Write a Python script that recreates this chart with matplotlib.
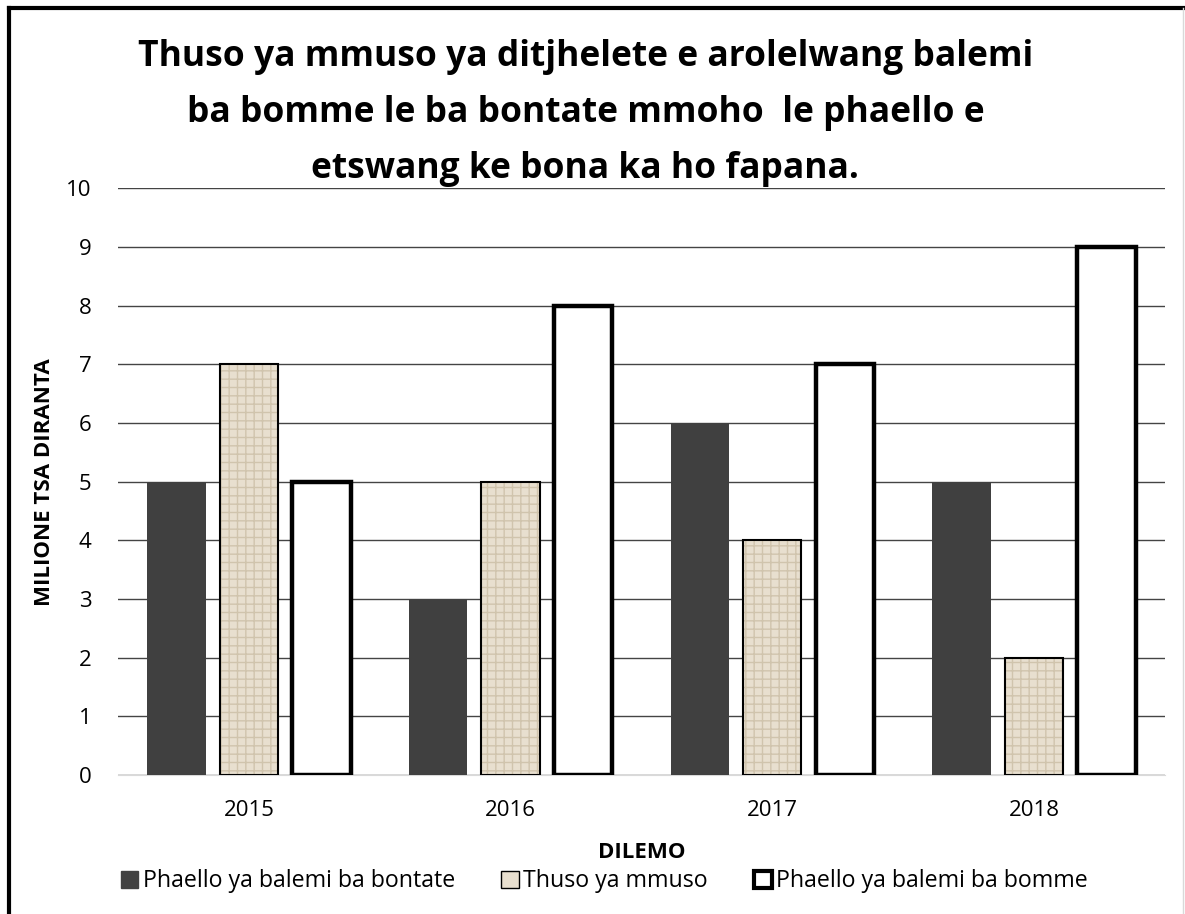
import matplotlib.pyplot as plt
import numpy as np
from matplotlib.patches import Patch
from matplotlib.lines import Line2D

years = ["2015", "2016", "2017", "2018"]
bontate = [5, 3, 6, 5]
thuso = [7, 5, 4, 2]
bomme = [5, 8, 7, 9]

labels = ["Phaello ya balemi ba bontate", "Thuso ya mmuso", "Phaello ya balemi ba bomme"]
title = ("Thuso ya mmuso ya ditjhelete e arolelwang balemi\n"
         "ba bomme le ba bontate mmoho  le phaello e\n"
         "etswang ke bona ka ho fapana.")

plt.rcParams['font.family'] = ['Open Sans', 'DejaVu Sans']

fig = plt.figure(figsize=(11.85, 9.14), dpi=100)
ax = fig.add_axes([0.0996, 0.152, 0.8834, 0.642])

x = np.arange(len(years))
w = 0.223
off = 0.277

ax.bar(x - off, bontate, w, color="#404040", zorder=3)
ax.bar(x, thuso, w, color="#e8dfcf", hatch="++", edgecolor="#d0c4ad", linewidth=0, zorder=3)
ax.bar(x, thuso, w, facecolor="none", edgecolor="black", linewidth=1.5, zorder=4)
ax.bar(x + off, bomme, w, color="white", edgecolor="black", linewidth=3.2, zorder=3)

ax.set_xlim(-0.5, 3.5)
ax.set_ylim(0, 10)
ax.set_yticks(range(0, 11))
ax.set_xticks(x)
ax.set_xticklabels(years)
ax.tick_params(length=0, labelsize=16)
ax.tick_params(axis="y", pad=19)
ax.tick_params(axis="x", pad=18)
ax.yaxis.grid(True, color="#444444", linewidth=1, zorder=0)
ax.set_axisbelow(True)
for s in ["top", "right", "left"]:
    ax.spines[s].set_visible(False)
ax.spines["bottom"].set_color("#d9d9d9")

ax.set_ylabel("MILIONE TSA DIRANTA", fontsize=16, fontweight="bold", labelpad=8)
ax.set_xlabel("DILEMO", fontsize=16, fontweight="bold", labelpad=15)

fig.text(0.494, 0.957, title, ha="center", va="top", fontsize=25.5,
         fontweight="bold", linespacing=1.73)

handles = [
    Patch(facecolor="#404040", edgecolor="#404040"),
    Patch(facecolor="#e8dfcf", edgecolor="black", linewidth=1),
    Patch(facecolor="white", edgecolor="black", linewidth=3),
]
fig.legend(handles, labels, loc="center", bbox_to_anchor=(0.51, 0.036), ncol=3,
           frameon=False, fontsize=16.7, handlelength=0.75, handleheight=0.75,
           handletextpad=0.2, columnspacing=2.0)

# outer chart border
fig.add_artist(Line2D([0.008, 0.008], [0, 0.991], color="black", lw=3, transform=fig.transFigure))
fig.add_artist(Line2D([0.008, 1], [0.991, 0.991], color="black", lw=3, transform=fig.transFigure))
fig.add_artist(Line2D([0.9985, 0.9985], [0, 0.991], color="#d9d9d9", lw=1, transform=fig.transFigure))

fig.savefig("out.png", dpi=100)
